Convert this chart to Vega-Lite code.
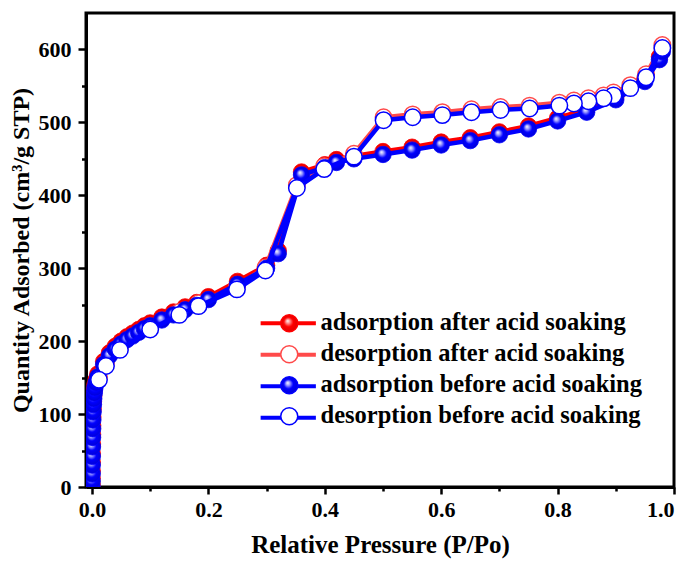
{
  "$schema": "https://vega.github.io/schema/vega-lite/v6.json",
  "width": 588,
  "height": 474,
  "autosize": {"type": "none"},
  "padding": {"left": 86, "top": 13, "right": 16, "bottom": 76},
  "background": "white",
  "config": {
    "view": {"stroke": "black", "strokeWidth": 3},
    "axis": {
      "grid": false,
      "domainColor": "black",
      "domainWidth": 3,
      "tickColor": "black",
      "tickWidth": 2.5,
      "labelFont": "Liberation Serif",
      "labelFontWeight": "bold",
      "labelFontSize": 22,
      "labelColor": "black",
      "titleFont": "Liberation Serif",
      "titleFontWeight": "bold",
      "titleFontSize": 24,
      "titleColor": "black"
    },
    "legend": {
      "title": null,
      "orient": "none",
      "padding": 0,
      "symbolSize": 289,
      "symbolStrokeWidth": 1.5,
      "symbolOpacity": 1,
      "labelFont": "Liberation Serif",
      "labelFontWeight": "bold",
      "labelFontSize": 24.5,
      "labelColor": "black",
      "labelOffset": 19,
      "labelLimit": 0,
      "rowPadding": 6.5
    }
  },
  "resolve": {"scale": {"shape": "independent"}, "legend": {"shape": "independent"}},
  "datasets": {
    "iso": [
      {"series": "adsorption after acid soaking", "P": 0.0002, "Q": 4},
      {"series": "adsorption after acid soaking", "P": 0.0003, "Q": 12},
      {"series": "adsorption after acid soaking", "P": 0.0004, "Q": 22},
      {"series": "adsorption after acid soaking", "P": 0.0005, "Q": 34},
      {"series": "adsorption after acid soaking", "P": 0.0006, "Q": 46},
      {"series": "adsorption after acid soaking", "P": 0.0008, "Q": 59},
      {"series": "adsorption after acid soaking", "P": 0.001, "Q": 72},
      {"series": "adsorption after acid soaking", "P": 0.0012, "Q": 84},
      {"series": "adsorption after acid soaking", "P": 0.0015, "Q": 96},
      {"series": "adsorption after acid soaking", "P": 0.002, "Q": 107},
      {"series": "adsorption after acid soaking", "P": 0.0025, "Q": 117},
      {"series": "adsorption after acid soaking", "P": 0.003, "Q": 125},
      {"series": "adsorption after acid soaking", "P": 0.004, "Q": 133},
      {"series": "adsorption after acid soaking", "P": 0.005, "Q": 140},
      {"series": "adsorption after acid soaking", "P": 0.007, "Q": 147},
      {"series": "adsorption after acid soaking", "P": 0.01, "Q": 155},
      {"series": "adsorption after acid soaking", "P": 0.02, "Q": 172},
      {"series": "adsorption after acid soaking", "P": 0.03, "Q": 184},
      {"series": "adsorption after acid soaking", "P": 0.04, "Q": 193},
      {"series": "adsorption after acid soaking", "P": 0.05, "Q": 200},
      {"series": "adsorption after acid soaking", "P": 0.06, "Q": 206},
      {"series": "adsorption after acid soaking", "P": 0.07, "Q": 211},
      {"series": "adsorption after acid soaking", "P": 0.08, "Q": 216},
      {"series": "adsorption after acid soaking", "P": 0.09, "Q": 221},
      {"series": "adsorption after acid soaking", "P": 0.1, "Q": 225},
      {"series": "adsorption after acid soaking", "P": 0.12, "Q": 233},
      {"series": "adsorption after acid soaking", "P": 0.14, "Q": 240},
      {"series": "adsorption after acid soaking", "P": 0.16, "Q": 247},
      {"series": "adsorption after acid soaking", "P": 0.18, "Q": 253},
      {"series": "adsorption after acid soaking", "P": 0.2, "Q": 261},
      {"series": "adsorption after acid soaking", "P": 0.25, "Q": 282},
      {"series": "adsorption after acid soaking", "P": 0.3, "Q": 304},
      {"series": "adsorption after acid soaking", "P": 0.32, "Q": 324},
      {"series": "adsorption after acid soaking", "P": 0.36, "Q": 432},
      {"series": "adsorption after acid soaking", "P": 0.4, "Q": 442},
      {"series": "adsorption after acid soaking", "P": 0.42, "Q": 449},
      {"series": "adsorption after acid soaking", "P": 0.45, "Q": 454},
      {"series": "adsorption after acid soaking", "P": 0.5, "Q": 460},
      {"series": "adsorption after acid soaking", "P": 0.55, "Q": 466},
      {"series": "adsorption after acid soaking", "P": 0.6, "Q": 473},
      {"series": "adsorption after acid soaking", "P": 0.65, "Q": 479},
      {"series": "adsorption after acid soaking", "P": 0.7, "Q": 487},
      {"series": "adsorption after acid soaking", "P": 0.75, "Q": 495},
      {"series": "adsorption after acid soaking", "P": 0.8, "Q": 506},
      {"series": "adsorption after acid soaking", "P": 0.85, "Q": 518},
      {"series": "adsorption after acid soaking", "P": 0.9, "Q": 535},
      {"series": "adsorption after acid soaking", "P": 0.95, "Q": 560},
      {"series": "adsorption after acid soaking", "P": 0.975, "Q": 590},
      {"series": "adsorption after acid soaking", "P": 0.98, "Q": 601},

      {"series": "desorption after acid soaking", "P": 0.98, "Q": 606},
      {"series": "desorption after acid soaking", "P": 0.952, "Q": 566},
      {"series": "desorption after acid soaking", "P": 0.925, "Q": 551},
      {"series": "desorption after acid soaking", "P": 0.896, "Q": 541},
      {"series": "desorption after acid soaking", "P": 0.879, "Q": 537},
      {"series": "desorption after acid soaking", "P": 0.853, "Q": 533},
      {"series": "desorption after acid soaking", "P": 0.828, "Q": 530},
      {"series": "desorption after acid soaking", "P": 0.803, "Q": 527},
      {"series": "desorption after acid soaking", "P": 0.752, "Q": 523},
      {"series": "desorption after acid soaking", "P": 0.702, "Q": 521},
      {"series": "desorption after acid soaking", "P": 0.652, "Q": 518},
      {"series": "desorption after acid soaking", "P": 0.602, "Q": 514},
      {"series": "desorption after acid soaking", "P": 0.551, "Q": 511},
      {"series": "desorption after acid soaking", "P": 0.501, "Q": 507},
      {"series": "desorption after acid soaking", "P": 0.45, "Q": 457},
      {"series": "desorption after acid soaking", "P": 0.399, "Q": 440},
      {"series": "desorption after acid soaking", "P": 0.352, "Q": 414},
      {"series": "desorption after acid soaking", "P": 0.298, "Q": 301},
      {"series": "desorption after acid soaking", "P": 0.249, "Q": 275},
      {"series": "desorption after acid soaking", "P": 0.183, "Q": 252},
      {"series": "desorption after acid soaking", "P": 0.15, "Q": 240},
      {"series": "desorption after acid soaking", "P": 0.1, "Q": 220},
      {"series": "desorption after acid soaking", "P": 0.048, "Q": 192},
      {"series": "desorption after acid soaking", "P": 0.024, "Q": 170},
      {"series": "desorption after acid soaking", "P": 0.012, "Q": 151},

      {"series": "adsorption before acid soaking", "P": 0.0002, "Q": 0},
      {"series": "adsorption before acid soaking", "P": 0.0003, "Q": 8},
      {"series": "adsorption before acid soaking", "P": 0.0004, "Q": 18},
      {"series": "adsorption before acid soaking", "P": 0.0005, "Q": 30},
      {"series": "adsorption before acid soaking", "P": 0.0006, "Q": 42},
      {"series": "adsorption before acid soaking", "P": 0.0008, "Q": 55},
      {"series": "adsorption before acid soaking", "P": 0.001, "Q": 68},
      {"series": "adsorption before acid soaking", "P": 0.0012, "Q": 80},
      {"series": "adsorption before acid soaking", "P": 0.0015, "Q": 92},
      {"series": "adsorption before acid soaking", "P": 0.002, "Q": 103},
      {"series": "adsorption before acid soaking", "P": 0.0025, "Q": 113},
      {"series": "adsorption before acid soaking", "P": 0.003, "Q": 121},
      {"series": "adsorption before acid soaking", "P": 0.004, "Q": 129},
      {"series": "adsorption before acid soaking", "P": 0.005, "Q": 136},
      {"series": "adsorption before acid soaking", "P": 0.007, "Q": 143},
      {"series": "adsorption before acid soaking", "P": 0.01, "Q": 151},
      {"series": "adsorption before acid soaking", "P": 0.02, "Q": 168},
      {"series": "adsorption before acid soaking", "P": 0.03, "Q": 180},
      {"series": "adsorption before acid soaking", "P": 0.04, "Q": 189},
      {"series": "adsorption before acid soaking", "P": 0.05, "Q": 196},
      {"series": "adsorption before acid soaking", "P": 0.06, "Q": 202},
      {"series": "adsorption before acid soaking", "P": 0.07, "Q": 207},
      {"series": "adsorption before acid soaking", "P": 0.08, "Q": 212},
      {"series": "adsorption before acid soaking", "P": 0.09, "Q": 217},
      {"series": "adsorption before acid soaking", "P": 0.1, "Q": 221},
      {"series": "adsorption before acid soaking", "P": 0.12, "Q": 229},
      {"series": "adsorption before acid soaking", "P": 0.14, "Q": 236},
      {"series": "adsorption before acid soaking", "P": 0.16, "Q": 243},
      {"series": "adsorption before acid soaking", "P": 0.18, "Q": 249},
      {"series": "adsorption before acid soaking", "P": 0.2, "Q": 257},
      {"series": "adsorption before acid soaking", "P": 0.25, "Q": 278},
      {"series": "adsorption before acid soaking", "P": 0.3, "Q": 300},
      {"series": "adsorption before acid soaking", "P": 0.32, "Q": 320},
      {"series": "adsorption before acid soaking", "P": 0.36, "Q": 428},
      {"series": "adsorption before acid soaking", "P": 0.4, "Q": 438},
      {"series": "adsorption before acid soaking", "P": 0.42, "Q": 445},
      {"series": "adsorption before acid soaking", "P": 0.45, "Q": 450},
      {"series": "adsorption before acid soaking", "P": 0.5, "Q": 456},
      {"series": "adsorption before acid soaking", "P": 0.55, "Q": 462},
      {"series": "adsorption before acid soaking", "P": 0.6, "Q": 469},
      {"series": "adsorption before acid soaking", "P": 0.65, "Q": 475},
      {"series": "adsorption before acid soaking", "P": 0.7, "Q": 483},
      {"series": "adsorption before acid soaking", "P": 0.75, "Q": 491},
      {"series": "adsorption before acid soaking", "P": 0.8, "Q": 502},
      {"series": "adsorption before acid soaking", "P": 0.85, "Q": 514},
      {"series": "adsorption before acid soaking", "P": 0.9, "Q": 531},
      {"series": "adsorption before acid soaking", "P": 0.95, "Q": 556},
      {"series": "adsorption before acid soaking", "P": 0.975, "Q": 586},
      {"series": "adsorption before acid soaking", "P": 0.98, "Q": 597},

      {"series": "desorption before acid soaking", "P": 0.98, "Q": 602},
      {"series": "desorption before acid soaking", "P": 0.952, "Q": 562},
      {"series": "desorption before acid soaking", "P": 0.925, "Q": 547},
      {"series": "desorption before acid soaking", "P": 0.896, "Q": 537},
      {"series": "desorption before acid soaking", "P": 0.879, "Q": 533},
      {"series": "desorption before acid soaking", "P": 0.853, "Q": 529},
      {"series": "desorption before acid soaking", "P": 0.828, "Q": 526},
      {"series": "desorption before acid soaking", "P": 0.803, "Q": 523},
      {"series": "desorption before acid soaking", "P": 0.752, "Q": 519},
      {"series": "desorption before acid soaking", "P": 0.702, "Q": 517},
      {"series": "desorption before acid soaking", "P": 0.652, "Q": 514},
      {"series": "desorption before acid soaking", "P": 0.602, "Q": 510},
      {"series": "desorption before acid soaking", "P": 0.551, "Q": 507},
      {"series": "desorption before acid soaking", "P": 0.501, "Q": 503},
      {"series": "desorption before acid soaking", "P": 0.45, "Q": 453},
      {"series": "desorption before acid soaking", "P": 0.399, "Q": 436},
      {"series": "desorption before acid soaking", "P": 0.352, "Q": 410},
      {"series": "desorption before acid soaking", "P": 0.298, "Q": 297},
      {"series": "desorption before acid soaking", "P": 0.249, "Q": 271},
      {"series": "desorption before acid soaking", "P": 0.183, "Q": 248},
      {"series": "desorption before acid soaking", "P": 0.15, "Q": 236},
      {"series": "desorption before acid soaking", "P": 0.1, "Q": 216},
      {"series": "desorption before acid soaking", "P": 0.048, "Q": 188},
      {"series": "desorption before acid soaking", "P": 0.024, "Q": 166},
      {"series": "desorption before acid soaking", "P": 0.012, "Q": 147}
    ]
  },
  "data": {"name": "iso"},
  "encoding": {
    "x": {
      "field": "P",
      "type": "quantitative",
      "scale": {"domain": [-0.0103, 1.0], "nice": false, "zero": false},
      "axis": {
        "title": "Relative Pressure (P/Po)",
        "titleFontSize": 25,
        "values": [0, 0.1, 0.2, 0.3, 0.4, 0.5, 0.6, 0.7, 0.8, 0.9, 1.0],
        "labelExpr": "round(datum.value*10) % 2 === 0 ? format(datum.value, '.1f') : ''",
        "tickSize": {"condition": {"test": "round(datum.value*10) % 2 === 0", "value": 7}, "value": 4},
        "labelPadding": 5,
        "titlePadding": 12
      }
    },
    "y": {
      "field": "Q",
      "type": "quantitative",
      "scale": {"domain": [0, 650], "nice": false},
      "axis": {
        "title": "Quantity Adsorbed (cm³/g STP)",
        "values": [0, 50, 100, 150, 200, 250, 300, 350, 400, 450, 500, 550, 600],
        "labelExpr": "datum.value % 100 === 0 ? datum.label : ''",
        "tickSize": {"condition": {"test": "datum.value % 100 === 0", "value": 8}, "value": 4.5},
        "labelPadding": 7,
        "titlePadding": 5
      }
    }
  },
  "layer": [
    {
      "transform": [{"filter": "datum.series === 'adsorption after acid soaking'"}],
      "layer": [
        {
          "mark": {"type": "line", "strokeWidth": 4.5, "clip": true},
          "encoding": {
            "stroke": {
              "field": "series", "type": "nominal",
              "scale": {
                "domain": ["adsorption after acid soaking", "desorption after acid soaking", "adsorption before acid soaking", "desorption before acid soaking"],
                "range": ["#ff0000", "#ff4a4a", "#0000ff", "#0000ff"]
              },
              "legend": {
                "legendX": 190,
                "legendY": 298,
                "symbolType": "M-3.25,0H3.25",
                "symbolStrokeWidth": 4,
                "labelExpr": "''",
                "zindex": 1
              }
            }
          }
        },
        {
          "mark": {
            "type": "point", "filled": true, "size": 270, "strokeWidth": 0.8, "opacity": 1, "clip": true, "stroke": "#ff0000",
            "fill": {"gradient": "radial", "x1": 0.4, "y1": 0.35, "r1": 0, "x2": 0.5, "y2": 0.5, "r2": 0.5,
              "stops": [{"offset": 0, "color": "#ffffff"}, {"offset": 0.25, "color": "#ff8c8c"}, {"offset": 0.55, "color": "#ff0000"}, {"offset": 1, "color": "#e00000"}]}
          },
          "encoding": {
            "shape": {
              "field": "series", "type": "nominal",
              "scale": {"range": ["circle"]},
              "legend": {"legendX": 191, "legendY": 298, "symbolType": "circle", "zindex": 2}
            }
          }
        }
      ]
    },
    {
      "transform": [{"filter": "datum.series === 'desorption after acid soaking'"}],
      "layer": [
        {"mark": {"type": "line", "strokeWidth": 4.5, "clip": true}, "encoding": {"stroke": {"field": "series", "type": "nominal"}}},
        {
          "mark": {"type": "point", "filled": true, "size": 270, "strokeWidth": 1.5, "opacity": 1, "clip": true, "stroke": "#ff4a4a", "fill": "#ffffff"},
          "encoding": {
            "shape": {
              "field": "series", "type": "nominal",
              "scale": {"range": ["circle"]},
              "legend": {"legendX": 191, "legendY": 329, "symbolType": "circle", "zindex": 2}
            }
          }
        }
      ]
    },
    {
      "transform": [{"filter": "datum.series === 'adsorption before acid soaking'"}],
      "layer": [
        {"mark": {"type": "line", "strokeWidth": 4.5, "clip": true}, "encoding": {"stroke": {"field": "series", "type": "nominal"}}},
        {
          "mark": {
            "type": "point", "filled": true, "size": 270, "strokeWidth": 0.8, "opacity": 1, "clip": true, "stroke": "#0000ff",
            "fill": {"gradient": "radial", "x1": 0.4, "y1": 0.35, "r1": 0, "x2": 0.5, "y2": 0.5, "r2": 0.5,
              "stops": [{"offset": 0, "color": "#ffffff"}, {"offset": 0.25, "color": "#9a9aff"}, {"offset": 0.55, "color": "#0000ff"}, {"offset": 1, "color": "#0000d8"}]}
          },
          "encoding": {
            "shape": {
              "field": "series", "type": "nominal",
              "scale": {"range": ["circle"]},
              "legend": {"legendX": 191, "legendY": 360, "symbolType": "circle", "zindex": 2}
            }
          }
        }
      ]
    },
    {
      "transform": [{"filter": "datum.series === 'desorption before acid soaking'"}],
      "layer": [
        {"mark": {"type": "line", "strokeWidth": 4.5, "clip": true}, "encoding": {"stroke": {"field": "series", "type": "nominal"}}},
        {
          "mark": {"type": "point", "filled": true, "size": 270, "strokeWidth": 1.5, "opacity": 1, "clip": true, "stroke": "#0000ff", "fill": "#ffffff"},
          "encoding": {
            "shape": {
              "field": "series", "type": "nominal",
              "scale": {"range": ["circle"]},
              "legend": {"legendX": 191, "legendY": 391, "symbolType": "circle", "zindex": 2}
            }
          }
        }
      ]
    }
  ]
}
